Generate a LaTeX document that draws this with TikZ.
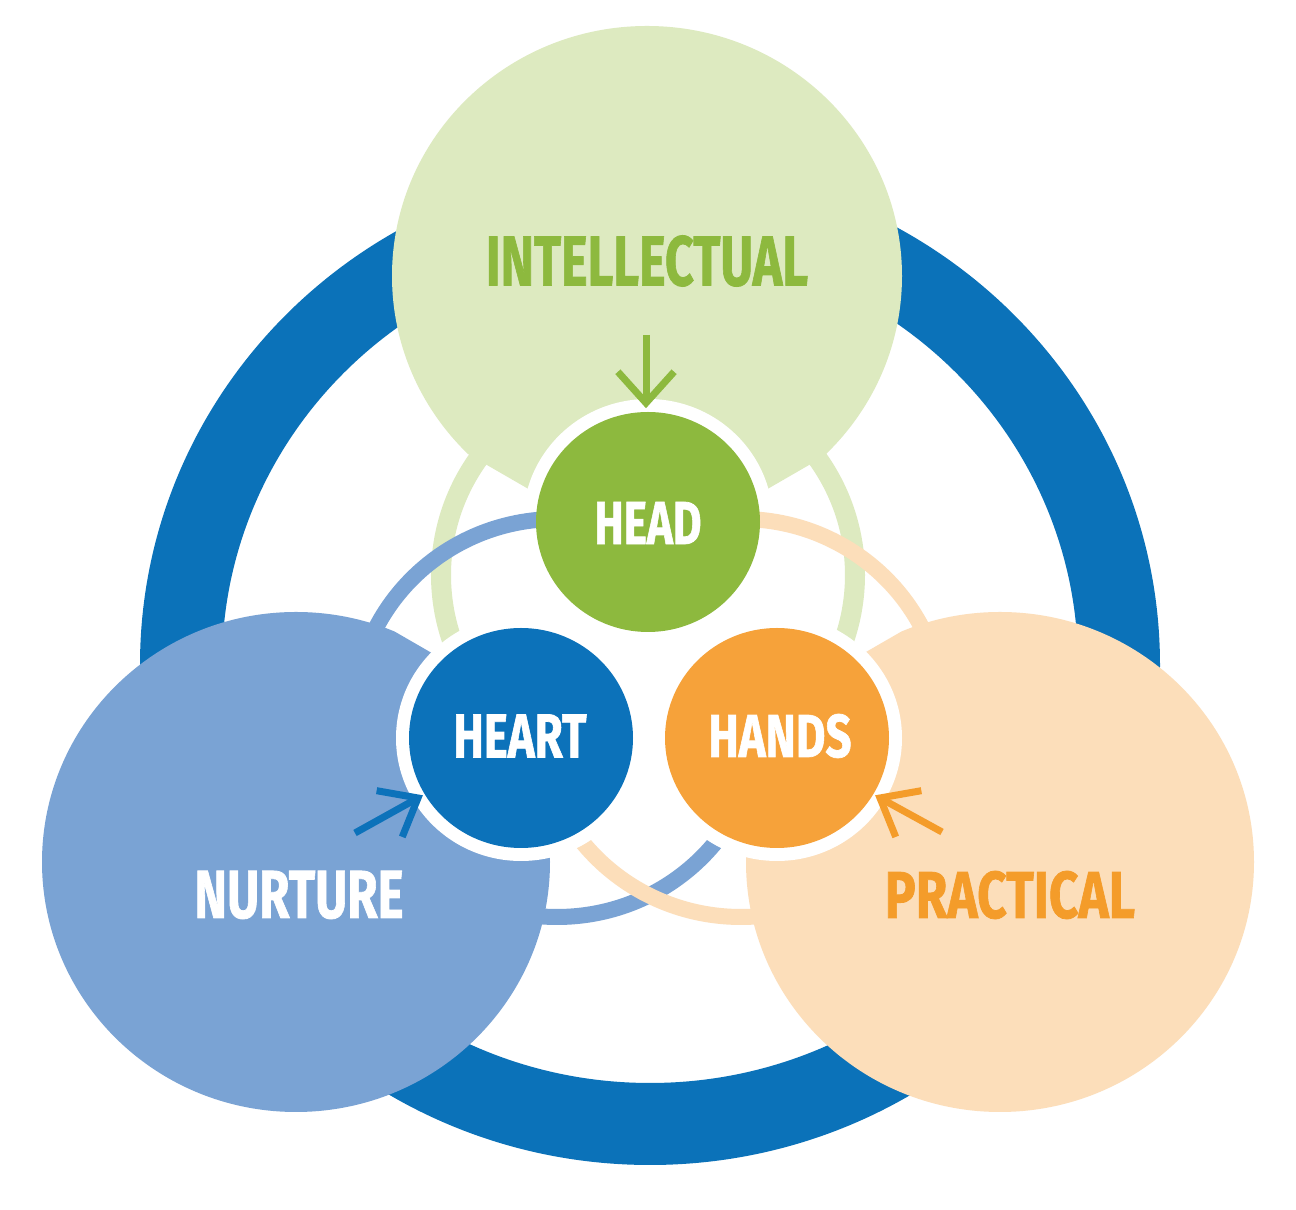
\documentclass[tikz,border=0pt]{standalone}
\usepackage{fontspec}
\usepackage{graphicx}
\newfontfamily\lblfont{Fira Sans}[BoldFeatures={FakeBold=1.2}]
\definecolor{ringblue}{HTML}{0B72B9}
\definecolor{lgreen}{HTML}{DDEAC0}
\definecolor{dgreen}{HTML}{8DB93E}
\definecolor{lblue}{HTML}{7AA3D4}
\definecolor{dblue}{HTML}{0C72BA}
\definecolor{peach}{HTML}{FCDEBA}
\definecolor{dorange}{HTML}{F6A23A}
\definecolor{torange}{HTML}{F49C2A}
\begin{document}
\begin{tikzpicture}[x=0.01cm,y=-0.01cm,
  lbl/.style={inner sep=0pt, outer sep=0pt, font=\lblfont\bfseries},
  arw/.style={line width=0.07cm, line cap=butt, line join=miter},
  halo/.style={white},
  mring/.style={line width=0.16cm}]
\useasboundingbox (0,0) rectangle (1296,1210);
\fill[white] (0,0) rectangle (1296,1210);
\clip (0,0) rectangle (1296,1210);

% named centres
\coordinate (ringc) at (650,665);
\coordinate (intc) at (647,276);
\coordinate (nurc) at (296,862);
\coordinate (pracc) at (1000,862);
\coordinate (headc) at (648,522);
\coordinate (heartc) at (521,738);
\coordinate (handsc) at (777,738);
\coordinate (mid) at (649,668);

% outer ring
\fill[ringblue, even odd rule] (ringc) ellipse [x radius=510, y radius=500]
  (ringc) ellipse [x radius=428, y radius=418];

% big circles, each clipped to its wedge
\begin{scope}
  \clip (648,558) -- (-218,58) -- (-218,-700) -- (1514,-700) -- (1514,58) -- cycle;
  \fill[lgreen] (intc) ellipse [x radius=255, y radius=250];
\end{scope}
\begin{scope}
  \clip (553,723) -- (-313,223) -- (-313,1500) -- (553,1500) -- cycle;
  \fill[lblue] (nurc) ellipse [x radius=254, y radius=250];
\end{scope}
\begin{scope}
  \clip (743,723) -- (1609,223) -- (1609,1500) -- (743,1500) -- cycle;
  \fill[peach] (pracc) ellipse [x radius=254, y radius=250];
\end{scope}

% green ring, head halo, then blue and orange rings
\draw[lgreen, line width=0.20cm] (648,575) ellipse [x radius=207, y radius=203];
\fill[halo] (headc) ellipse [x radius=125, y radius=123];
\draw[lblue, mring] (557,718) ellipse [x radius=203, y radius=199];
\draw[peach, mring] (741,718) ellipse [x radius=203, y radius=199];
\fill[white] (mid) circle [radius=128];

% heart and hands halos, then inner circles
\fill[halo] (heartc) ellipse [x radius=125, y radius=123];
\fill[halo] (handsc) ellipse [x radius=125, y radius=123];
\fill[dgreen] (headc) ellipse [x radius=112, y radius=110];
\fill[dblue] (heartc) ellipse [x radius=112, y radius=110];
\fill[dorange] (handsc) ellipse [x radius=112, y radius=110];

% labels
\node[lbl, text=dgreen] (tintel) at (647,261) {\resizebox{3.22cm}{0.50cm}{INTELLECTUAL}};
\node[lbl, text=white] (thead) at (648,523) {\resizebox{1.07cm}{0.42cm}{HEAD}};
\node[lbl, text=white] (theart) at (520,736) {\resizebox{1.33cm}{0.43cm}{HEART}};
\node[lbl, text=white] (thands) at (780,736) {\resizebox{1.43cm}{0.43cm}{HANDS}};
\node[lbl, text=white] (tnur) at (299,895) {\resizebox{2.09cm}{0.47cm}{NURTURE}};
\node[lbl, text=torange] (tprac) at (1010,895) {\resizebox{2.50cm}{0.47cm}{PRACTICAL}};

% arrows
\coordinate (gs) at (646,335);
\coordinate (gt) at (646,403);
\coordinate (bs) at (355,833);
\coordinate (bt) at (418,798);
\coordinate (os) at (942,832);
\coordinate (ot) at (880,798);
\draw[arw, dgreen] (gs) -- (gt);
\draw[arw, dgreen] (gt) ++(-132:42) -- (gt) -- ++(-48:42);
\draw[arw, dblue] (bs) -- (bt);
\draw[arw, dblue] (bt) ++(190:42) -- (bt) -- ++(112:42);
\draw[arw, torange] (os) -- (ot);
\draw[arw, torange] (ot) ++(-10:42) -- (ot) -- ++(68:42);
\end{tikzpicture}
\end{document}
